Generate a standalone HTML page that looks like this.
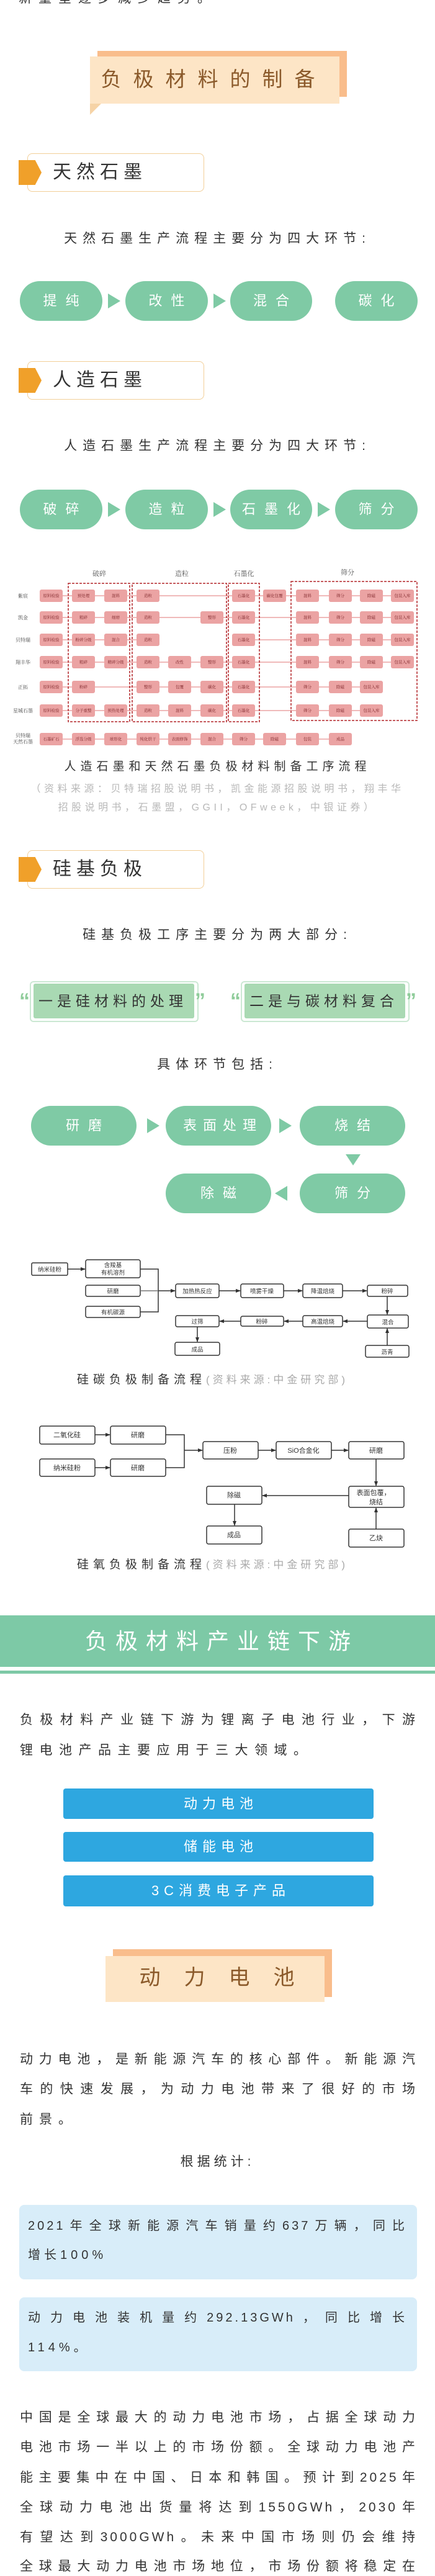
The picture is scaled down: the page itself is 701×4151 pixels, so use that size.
<!DOCTYPE html>
<html><head><meta charset="utf-8">
<style>
*{margin:0;padding:0;box-sizing:border-box}
body{width:701px;height:4150px;background:#fff;position:relative;overflow:hidden;font-family:"Liberation Sans","Noto Sans CJK SC",sans-serif;color:#333}
.a{position:absolute;white-space:nowrap}
.c{position:absolute;left:0;width:701px;text-align:center;white-space:nowrap}
.j{position:absolute;left:32px;width:641px;text-align:justify;text-align-last:justify;text-justify:inter-character;font-size:21px;letter-spacing:4px;line-height:30px;white-space:nowrap;overflow:hidden}
.hd{position:absolute;left:44px;width:285px;height:62px;border:1.5px solid #f2cf98;border-radius:8px;background:#fff}
.pt{position:absolute;left:30px;width:37px;height:40px;background:#f0a02a;clip-path:polygon(0 0,72% 0,100% 50%,72% 100%,0 100%)}
.ht{position:absolute;left:85px;font-size:30px;letter-spacing:8px;line-height:62px;color:#333}
.pill{position:absolute;height:64px;background:#7fcaa5;border-radius:32px;color:#fff;font-size:22px;letter-spacing:14px;text-align:center;line-height:64px;padding-left:14px}
.tri{position:absolute;width:0;height:0;border-top:12px solid transparent;border-bottom:12px solid transparent;border-left:20px solid #7fcaa5}
.sub{font-size:21px;letter-spacing:9px;line-height:30px}
.btn{position:absolute;left:102px;width:500px;background:#2ea7e0;border-radius:4px;color:#fff;font-size:22px;letter-spacing:8px;text-align:center;padding-left:8px}
.ib{position:absolute;left:31px;width:641px;background:#d8edf9;border-radius:8px}
</style></head><body>

<div class="a" style="left:30px;top:-17px;font-size:21px;letter-spacing:11px;line-height:30px">新量呈逐步减少趋势。</div>

<!-- banner 1 -->
<div class="a" style="left:157px;top:82px;width:402px;height:74px;background:#f9bd8c"></div>
<div class="a" style="left:145px;top:91px;width:402px;height:76px;background:#fde5c6"></div>
<div class="a" style="left:145px;top:167px;width:0;height:0;border-left:18px solid #f6d3a6;border-bottom:18px solid transparent"></div>
<div class="c" style="top:106px;left:-6px;font-size:33px;letter-spacing:19px;line-height:44px;color:#8b5a2b">负极材料的制备</div>

<!-- 天然石墨 -->
<div class="hd" style="top:247px"></div><div class="pt" style="top:258px"></div>
<div class="ht" style="top:247px">天然石墨</div>
<div class="c sub" style="top:370px">天然石墨生产流程主要分为四大环节:</div>
<div class="pill" style="left:32px;top:453px;width:133px">提纯</div>
<div class="tri" style="left:174px;top:473px"></div>
<div class="pill" style="left:202px;top:453px;width:133px">改性</div>
<div class="tri" style="left:344px;top:473px"></div>
<div class="pill" style="left:371px;top:453px;width:132px">混合</div>
<div class="pill" style="left:540px;top:453px;width:133px">碳化</div>

<!-- 人造石墨 -->
<div class="hd" style="top:582px"></div><div class="pt" style="top:593px"></div>
<div class="ht" style="top:582px">人造石墨</div>
<div class="c sub" style="top:704px">人造石墨生产流程主要分为四大环节:</div>
<div class="pill" style="left:32px;top:789px;width:133px">破碎</div>
<div class="tri" style="left:174px;top:809px"></div>
<div class="pill" style="left:202px;top:789px;width:133px">造粒</div>
<div class="tri" style="left:344px;top:809px"></div>
<div class="pill" style="left:371px;top:789px;width:132px">石墨化</div>
<div class="tri" style="left:512px;top:809px"></div>
<div class="pill" style="left:540px;top:789px;width:133px">筛分</div>

<!-- process table -->
<svg class="a" style="left:0;top:0" width="701" height="1250" viewBox="0 0 701 1250" font-family="Liberation Serif,Noto Serif CJK SC,serif">
<g stroke="#eba3a3" stroke-width="1.5">
<line x1="101" y1="960" x2="630" y2="960"/>
<line x1="101" y1="995" x2="630" y2="995"/>
<line x1="101" y1="1031" x2="257" y2="1031"/><line x1="411" y1="1031" x2="630" y2="1031"/>
<line x1="101" y1="1067" x2="630" y2="1067"/>
<line x1="101" y1="1107" x2="580" y2="1107"/>
<line x1="101" y1="1145" x2="580" y2="1145"/>
<line x1="101" y1="1191" x2="530" y2="1191"/>
</g>
<g fill="none" stroke="#b3262a" stroke-width="1.5" stroke-dasharray="4 2">
<rect x="110" y="940" width="99" height="223"/>
<rect x="213" y="940" width="152" height="223"/>
<rect x="368" y="940" width="50" height="223"/>
<rect x="469" y="937" width="203" height="224"/>
</g>
<g font-size="11" fill="#555" text-anchor="middle">
<text x="160" y="928">破碎</text><text x="293" y="928">造粒</text><text x="393" y="928">石墨化</text><text x="560" y="926">筛分</text>
</g>
<g font-size="8" fill="#444" text-anchor="middle">
<text x="37" y="963">紫宸</text><text x="37" y="998">凯金</text><text x="37" y="1034">贝特瑞</text><text x="37" y="1070">翔丰华</text><text x="37" y="1110">正拓</text><text x="37" y="1148">星城石墨</text><text x="37" y="1188">贝特瑞</text><text x="37" y="1198">天然石墨</text>
</g>
<g fill="#eba3a3">
<rect x="64" y="950" width="37" height="20" rx="3"/><rect x="116" y="950" width="37" height="20" rx="3"/><rect x="168" y="950" width="37" height="20" rx="3"/><rect x="220" y="950" width="37" height="20" rx="3"/><rect x="374" y="950" width="37" height="20" rx="3"/><rect x="424" y="950" width="37" height="20" rx="3"/><rect x="477" y="950" width="37" height="20" rx="3"/><rect x="530" y="950" width="37" height="20" rx="3"/><rect x="580" y="950" width="37" height="20" rx="3"/><rect x="630" y="950" width="37" height="20" rx="3"/>
<rect x="64" y="985" width="37" height="20" rx="3"/><rect x="116" y="985" width="37" height="20" rx="3"/><rect x="168" y="985" width="37" height="20" rx="3"/><rect x="220" y="985" width="37" height="20" rx="3"/><rect x="323" y="985" width="37" height="20" rx="3"/><rect x="374" y="985" width="37" height="20" rx="3"/><rect x="477" y="985" width="37" height="20" rx="3"/><rect x="530" y="985" width="37" height="20" rx="3"/><rect x="580" y="985" width="37" height="20" rx="3"/><rect x="630" y="985" width="37" height="20" rx="3"/>
<rect x="64" y="1021" width="37" height="20" rx="3"/><rect x="116" y="1021" width="37" height="20" rx="3"/><rect x="168" y="1021" width="37" height="20" rx="3"/><rect x="220" y="1021" width="37" height="20" rx="3"/><rect x="374" y="1021" width="37" height="20" rx="3"/><rect x="477" y="1021" width="37" height="20" rx="3"/><rect x="530" y="1021" width="37" height="20" rx="3"/><rect x="580" y="1021" width="37" height="20" rx="3"/><rect x="630" y="1021" width="37" height="20" rx="3"/>
<rect x="64" y="1057" width="37" height="20" rx="3"/><rect x="116" y="1057" width="37" height="20" rx="3"/><rect x="168" y="1057" width="37" height="20" rx="3"/><rect x="220" y="1057" width="37" height="20" rx="3"/><rect x="271" y="1057" width="37" height="20" rx="3"/><rect x="323" y="1057" width="37" height="20" rx="3"/><rect x="374" y="1057" width="37" height="20" rx="3"/><rect x="477" y="1057" width="37" height="20" rx="3"/><rect x="530" y="1057" width="37" height="20" rx="3"/><rect x="580" y="1057" width="37" height="20" rx="3"/><rect x="630" y="1057" width="37" height="20" rx="3"/>
<rect x="64" y="1097" width="37" height="20" rx="3"/><rect x="116" y="1097" width="37" height="20" rx="3"/><rect x="220" y="1097" width="37" height="20" rx="3"/><rect x="271" y="1097" width="37" height="20" rx="3"/><rect x="323" y="1097" width="37" height="20" rx="3"/><rect x="374" y="1097" width="37" height="20" rx="3"/><rect x="477" y="1097" width="37" height="20" rx="3"/><rect x="530" y="1097" width="37" height="20" rx="3"/><rect x="580" y="1097" width="37" height="20" rx="3"/>
<rect x="64" y="1135" width="37" height="20" rx="3"/><rect x="116" y="1135" width="37" height="20" rx="3"/><rect x="168" y="1135" width="37" height="20" rx="3"/><rect x="220" y="1135" width="37" height="20" rx="3"/><rect x="271" y="1135" width="37" height="20" rx="3"/><rect x="323" y="1135" width="37" height="20" rx="3"/><rect x="374" y="1135" width="37" height="20" rx="3"/><rect x="477" y="1135" width="37" height="20" rx="3"/><rect x="530" y="1135" width="37" height="20" rx="3"/><rect x="580" y="1135" width="37" height="20" rx="3"/>
<rect x="64" y="1181" width="37" height="20" rx="3"/><rect x="116" y="1181" width="37" height="20" rx="3"/><rect x="168" y="1181" width="37" height="20" rx="3"/><rect x="220" y="1181" width="37" height="20" rx="3"/><rect x="271" y="1181" width="37" height="20" rx="3"/><rect x="323" y="1181" width="37" height="20" rx="3"/><rect x="374" y="1181" width="37" height="20" rx="3"/><rect x="424" y="1181" width="37" height="20" rx="3"/><rect x="477" y="1181" width="37" height="20" rx="3"/><rect x="530" y="1181" width="37" height="20" rx="3"/>
</g>
<g font-size="6.5" fill="#7a2226" text-anchor="middle">
<text x="82.5" y="962">原料检验</text><text x="134.5" y="962">预处理</text><text x="186.5" y="962">混料</text><text x="238.5" y="962">造粒</text><text x="392.5" y="962">石墨化</text><text x="442.5" y="962">碳化包覆</text><text x="495.5" y="962">混料</text><text x="548.5" y="962">筛分</text><text x="598.5" y="962">除磁</text><text x="648.5" y="962">包装入库</text>
<text x="82.5" y="997">原料检验</text><text x="134.5" y="997">粗碎</text><text x="186.5" y="997">细磨</text><text x="238.5" y="997">造粒</text><text x="341.5" y="997">整形</text><text x="392.5" y="997">石墨化</text><text x="495.5" y="997">混料</text><text x="548.5" y="997">筛分</text><text x="598.5" y="997">除磁</text><text x="648.5" y="997">包装入库</text>
<text x="82.5" y="1033">原料检验</text><text x="134.5" y="1033">粉碎分级</text><text x="186.5" y="1033">混合</text><text x="238.5" y="1033">造粒</text><text x="392.5" y="1033">石墨化</text><text x="495.5" y="1033">混料</text><text x="548.5" y="1033">筛分</text><text x="598.5" y="1033">除磁</text><text x="648.5" y="1033">包装入库</text>
<text x="82.5" y="1069">原料检验</text><text x="134.5" y="1069">粗碎</text><text x="186.5" y="1069">精碎分级</text><text x="238.5" y="1069">造粒</text><text x="289.5" y="1069">改性</text><text x="341.5" y="1069">整形</text><text x="392.5" y="1069">石墨化</text><text x="495.5" y="1069">混料</text><text x="548.5" y="1069">筛分</text><text x="598.5" y="1069">除磁</text><text x="648.5" y="1069">包装入库</text>
<text x="82.5" y="1109">原料检验</text><text x="134.5" y="1109">粉碎</text><text x="238.5" y="1109">整形</text><text x="289.5" y="1109">包覆</text><text x="341.5" y="1109">碳化</text><text x="392.5" y="1109">石墨化</text><text x="495.5" y="1109">筛分</text><text x="548.5" y="1109">除磁</text><text x="598.5" y="1109">包装入库</text>
<text x="82.5" y="1147">原料检验</text><text x="134.5" y="1147">分子重整</text><text x="186.5" y="1147">预热处理</text><text x="238.5" y="1147">造粒</text><text x="289.5" y="1147">混料</text><text x="341.5" y="1147">碳化</text><text x="392.5" y="1147">石墨化</text><text x="495.5" y="1147">筛分</text><text x="548.5" y="1147">除磁</text><text x="598.5" y="1147">包装入库</text>
<text x="82.5" y="1193">石墨矿石</text><text x="134.5" y="1193">浮选分级</text><text x="186.5" y="1193">球形化</text><text x="238.5" y="1193">纯化烘干</text><text x="289.5" y="1193">表面修饰</text><text x="341.5" y="1193">混合</text><text x="392.5" y="1193">筛分</text><text x="442.5" y="1193">除磁</text><text x="495.5" y="1193">包装</text><text x="548.5" y="1193">成品</text>
</g>
</svg>

<div class="c" style="top:1222px;font-size:19px;letter-spacing:7px;line-height:28px">人造石墨和天然石墨负极材料制备工序流程</div>
<div class="c" style="top:1260px;font-size:16px;letter-spacing:5.5px;line-height:24px;color:#b8b8b8">（资料来源：贝特瑞招股说明书，凯金能源招股说明书，翔丰华</div>
<div class="c" style="top:1290px;font-size:16px;letter-spacing:5.5px;line-height:24px;color:#b8b8b8">招股说明书，石墨盟，GGII，OFweek，中银证券）</div>

<!-- 硅基负极 -->
<div class="hd" style="top:1370px"></div><div class="pt" style="top:1381px"></div>
<div class="ht" style="top:1370px">硅基负极</div>
<div class="c sub" style="top:1492px">硅基负极工序主要分为两大部分:</div>

<div class="a" style="left:48px;top:1581px;width:272px;height:66px;border:2px solid #cbe8d3;border-radius:6px"></div>
<div class="a" style="left:54px;top:1585px;width:259px;height:56px;background:#a9d9b3;border-radius:3px"></div>
<div class="a" style="left:62px;top:1598px;font-size:23px;letter-spacing:7px;line-height:30px;color:#333">一是硅材料的处理</div>
<div class="a" style="left:31px;top:1596px;font-size:34px;font-weight:bold;color:#8fcc9a;line-height:34px">“</div>
<div class="a" style="left:314px;top:1596px;font-size:34px;font-weight:bold;color:#8fcc9a;line-height:34px">”</div>

<div class="a" style="left:388px;top:1581px;width:272px;height:66px;border:2px solid #cbe8d3;border-radius:6px"></div>
<div class="a" style="left:394px;top:1585px;width:259px;height:56px;background:#a9d9b3;border-radius:3px"></div>
<div class="a" style="left:402px;top:1598px;font-size:23px;letter-spacing:7px;line-height:30px;color:#333">二是与碳材料复合</div>
<div class="a" style="left:371px;top:1596px;font-size:34px;font-weight:bold;color:#8fcc9a;line-height:34px">“</div>
<div class="a" style="left:654px;top:1596px;font-size:34px;font-weight:bold;color:#8fcc9a;line-height:34px">”</div>

<div class="c sub" style="top:1701px">具体环节包括:</div>
<div class="pill" style="left:50px;top:1782px;width:170px">研磨</div>
<div class="tri" style="left:237px;top:1802px"></div>
<div class="pill" style="left:267px;top:1782px;width:170px;letter-spacing:10px">表面处理</div>
<div class="tri" style="left:450px;top:1802px"></div>
<div class="pill" style="left:483px;top:1782px;width:170px">烧结</div>
<div class="a" style="left:557px;top:1860px;width:0;height:0;border-left:12px solid transparent;border-right:12px solid transparent;border-top:18px solid #7fcaa5"></div>
<div class="pill" style="left:267px;top:1891px;width:170px">除磁</div>
<div class="a" style="left:443px;top:1911px;width:0;height:0;border-top:12px solid transparent;border-bottom:12px solid transparent;border-right:20px solid #7fcaa5"></div>
<div class="pill" style="left:483px;top:1891px;width:170px">筛分</div>

<!-- Si-C diagram & SiO diagram -->
<svg class="a" style="left:0;top:2000px" width="701" height="520" viewBox="0 2000 701 520" font-family="Liberation Sans,Noto Sans CJK SC,sans-serif">
<defs><marker id="ar" markerWidth="8" markerHeight="8" refX="7" refY="4" orient="auto" markerUnits="userSpaceOnUse"><path d="M0,1 L8,4 L0,7z" fill="#333"/></marker></defs>
<g fill="#fff" stroke="#333" stroke-width="1.5">
<rect x="51" y="2035" width="58" height="20" rx="2"/>
<rect x="138" y="2030" width="88" height="29" rx="3"/>
<rect x="138" y="2071" width="88" height="18" rx="3"/>
<rect x="138" y="2105" width="88" height="18" rx="3"/>
<rect x="283" y="2069" width="70" height="22" rx="3"/>
<rect x="388" y="2069" width="69" height="22" rx="3"/>
<rect x="488" y="2069" width="64" height="22" rx="3"/>
<rect x="592" y="2071" width="65" height="18" rx="3"/>
<rect x="592" y="2119" width="66" height="21" rx="3"/>
<rect x="488" y="2120" width="64" height="18" rx="3"/>
<rect x="388" y="2121" width="69" height="16" rx="3"/>
<rect x="283" y="2120" width="70" height="18" rx="3"/>
<rect x="282" y="2163" width="72" height="21" rx="3"/>
<rect x="589" y="2168" width="70" height="19" rx="3"/>
</g>
<g fill="none" stroke="#333" stroke-width="1.5">
<line x1="109" y1="2045" x2="137" y2="2045" marker-end="url(#ar)"/>
<polyline points="226,2045 255,2045 255,2114 226,2114"/>
<line x1="226" y1="2080" x2="255" y2="2080" stroke="#777"/>
<line x1="255" y1="2080" x2="282" y2="2080" marker-end="url(#ar)"/>
<line x1="353" y1="2080" x2="387" y2="2080" marker-end="url(#ar)"/>
<line x1="457" y1="2080" x2="487" y2="2080" marker-end="url(#ar)"/>
<line x1="552" y1="2080" x2="591" y2="2080" marker-end="url(#ar)"/>
<line x1="624" y1="2089" x2="624" y2="2118" marker-end="url(#ar)"/>
<line x1="624" y1="2168" x2="624" y2="2141" marker-end="url(#ar)"/>
<line x1="592" y1="2129" x2="553" y2="2129" marker-end="url(#ar)"/>
<line x1="488" y1="2129" x2="458" y2="2129" marker-end="url(#ar)"/>
<line x1="388" y1="2129" x2="354" y2="2129" marker-end="url(#ar)"/>
<line x1="318" y1="2138" x2="318" y2="2162" marker-end="url(#ar)"/>
</g>
<g font-size="9.5" fill="#333" text-anchor="middle">
<text x="80" y="2049">纳米硅粉</text>
<text x="182" y="2042">含羧基</text><text x="182" y="2054">有机溶剂</text>
<text x="182" y="2084">研磨</text><text x="182" y="2118">有机碳源</text>
<text x="318" y="2084">加热热反应</text><text x="422" y="2084">喷雾干燥</text><text x="520" y="2084">降温焙烧</text><text x="624" y="2084">粉碎</text>
<text x="625" y="2134">混合</text><text x="520" y="2133">高温焙烧</text><text x="422" y="2133">粉碎</text><text x="318" y="2133">过筛</text>
<text x="318" y="2178">成品</text><text x="624" y="2182">沥青</text>
</g>

<g fill="#fff" stroke="#333" stroke-width="1.5">
<rect x="64" y="2298" width="89" height="29" rx="3"/>
<rect x="178" y="2298" width="89" height="29" rx="3"/>
<rect x="64" y="2351" width="89" height="28" rx="3"/>
<rect x="178" y="2351" width="89" height="28" rx="3"/>
<rect x="327" y="2323" width="89" height="28" rx="3"/>
<rect x="445" y="2323" width="89" height="28" rx="3"/>
<rect x="562" y="2323" width="89" height="28" rx="3"/>
<rect x="562" y="2395" width="89" height="34" rx="3"/>
<rect x="562" y="2464" width="89" height="29" rx="3"/>
<rect x="333" y="2395" width="89" height="29" rx="3"/>
<rect x="333" y="2459" width="89" height="29" rx="3"/>
</g>
<g fill="none" stroke="#333" stroke-width="1.5">
<line x1="153" y1="2312" x2="177" y2="2312" marker-end="url(#ar)"/>
<line x1="153" y1="2365" x2="177" y2="2365" marker-end="url(#ar)"/>
<polyline points="267,2312 297,2312 297,2365 267,2365"/>
<line x1="297" y1="2337" x2="326" y2="2337" marker-end="url(#ar)"/>
<line x1="416" y1="2337" x2="444" y2="2337" marker-end="url(#ar)"/>
<line x1="534" y1="2337" x2="561" y2="2337" marker-end="url(#ar)"/>
<line x1="606" y1="2351" x2="606" y2="2394" marker-end="url(#ar)"/>
<line x1="606" y1="2464" x2="606" y2="2430" marker-end="url(#ar)"/>
<line x1="562" y1="2410" x2="423" y2="2410" marker-end="url(#ar)"/>
<line x1="378" y1="2424" x2="378" y2="2458" marker-end="url(#ar)"/>
</g>
<g font-size="11" fill="#333" text-anchor="middle">
<text x="108" y="2316">二氧化硅</text><text x="222" y="2316">研磨</text>
<text x="108" y="2369">纳米硅粉</text><text x="222" y="2369">研磨</text>
<text x="371" y="2341">压粉</text><text x="489" y="2341">SiO合金化</text><text x="606" y="2341">研磨</text>
<text x="602" y="2409">表面包覆，</text><text x="606" y="2424">烧结</text>
<text x="606" y="2482">乙炔</text>
<text x="377" y="2413">除磁</text><text x="377" y="2477">成品</text>
</g>
</svg>

<div class="a" style="left:124px;top:2210px;line-height:28px"><span style="font-size:19px;letter-spacing:7px">硅碳负极制备流程</span><span style="font-size:17px;letter-spacing:5px;color:#aaa">(资料来源:中金研究部)</span></div>
<div class="a" style="left:124px;top:2508px;line-height:28px"><span style="font-size:19px;letter-spacing:7px">硅氧负极制备流程</span><span style="font-size:17px;letter-spacing:5px;color:#aaa">(资料来源:中金研究部)</span></div>

<!-- green banner -->
<div class="a" style="left:0;top:2603px;width:701px;height:83px;background:#7dc9a6"></div>
<div class="a" style="left:0;top:2692px;width:701px;height:5px;background:#7dc9a6"></div>
<div class="c" style="top:2622px;left:7px;font-size:36px;letter-spacing:13px;line-height:46px;color:#fff">负极材料产业链下游</div>

<div class="j" style="top:2757px">负极材料产业链下游为锂离子电池行业，下游</div>
<div class="a" style="left:32px;top:2806px;font-size:21px;letter-spacing:10.5px;line-height:30px">锂电池产品主要应用于三大领域。</div>

<div class="btn" style="top:2882px;height:49px;line-height:49px">动力电池</div>
<div class="btn" style="top:2952px;height:48px;line-height:48px">储能电池</div>
<div class="btn" style="top:3022px;height:50px;line-height:50px">3C消费电子产品</div>

<!-- banner 2 -->
<div class="a" style="left:182px;top:3141px;width:353px;height:77px;background:#f9bd8c"></div>
<div class="a" style="left:170px;top:3152px;width:353px;height:74px;background:#fde5c6"></div>
<div class="c" style="top:3165px;left:18px;font-size:34px;letter-spacing:38px;line-height:44px;color:#8b5a2b">动力电池</div>

<div class="j" style="top:3304px">动力电池，是新能源汽车的核心部件。新能源汽</div>
<div class="j" style="top:3352px">车的快速发展，为动力电池带来了很好的市场</div>
<div class="a" style="left:32px;top:3401px;font-size:21px;letter-spacing:10px;line-height:30px">前景。</div>

<div class="c sub" style="top:3469px;letter-spacing:6px">根据统计:</div>

<div class="ib" style="top:3553px;height:120px"></div>
<div class="a" style="left:45px;top:3572px;width:611px;font-size:20px;letter-spacing:4px;line-height:30px;text-align:justify;text-align-last:justify">2021年全球新能源汽车销量约637万辆，同比</div>
<div class="a" style="left:45px;top:3619px;font-size:20px;letter-spacing:6px;line-height:30px">增长100%</div>

<div class="ib" style="top:3702px;height:119px"></div>
<div class="a" style="left:45px;top:3720px;width:611px;font-size:20px;letter-spacing:4px;line-height:30px;text-align:justify;text-align-last:justify">动力电池装机量约292.13GWh，同比增长</div>
<div class="a" style="left:45px;top:3768px;font-size:20px;letter-spacing:6px;line-height:30px">114%。</div>

<div class="j" style="top:3881px">中国是全球最大的动力电池市场，占据全球动力</div>
<div class="j" style="top:3929px">电池市场一半以上的市场份额。全球动力电池产</div>
<div class="j" style="top:3978px">能主要集中在中国、日本和韩国。预计到2025年</div>
<div class="j" style="top:4026px">全球动力电池出货量将达到1550GWh，2030年</div>
<div class="j" style="top:4074px">有望达到3000GWh。未来中国市场则仍会维持</div>
<div class="j" style="top:4121px">全球最大动力电池市场地位，市场份额将稳定在</div>

</body></html>
